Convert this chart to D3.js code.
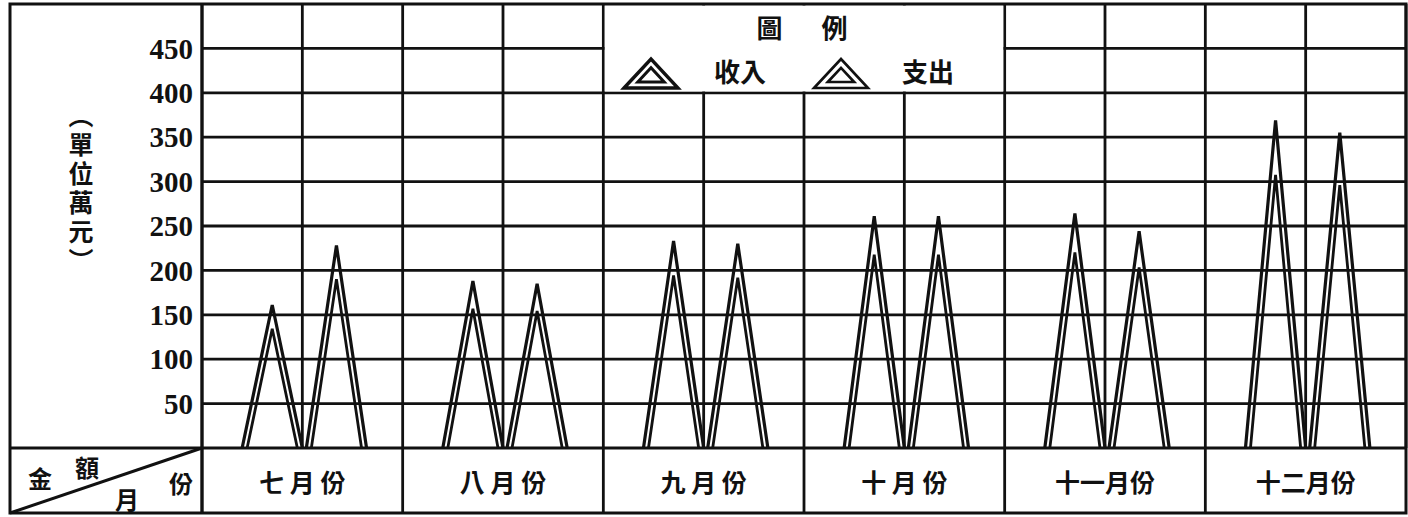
<!DOCTYPE html>
<html><head><meta charset="utf-8">
<script src="https://cdn.jsdelivr.net/npm/d3@7/dist/d3.min.js"></script>
<style>
html,body{margin:0;padding:0;background:#fff;}
svg{display:block;}
</style></head>
<body>
<svg id="chart" width="1408" height="517"></svg>
<script>
// ---- data ----
const months = ["七 月 份", "八 月 份", "九 月 份", "十 月 份", "十一月份", "十二月份"];
const income = [161, 188, 233, 261, 264, 369];   // 收入 (萬元)
const expense = [228, 185, 230, 261, 244, 355];  // 支出 (萬元)
const yTicks = [50, 100, 150, 200, 250, 300, 350, 400, 450];
const yGrid = [50, 100, 150, 200, 250, 300, 350, 400, 450];
const seriesNames = ["收入", "支出"];
const unitLabel = "（單位萬元）";

// ---- layout ----
const svg = d3.select("#chart");
const L = 10, T = 4, R = 1406, B = 513;
const plotL = 202, baseY = 448;
const ink = "#111";
const cjk = "'Noto Sans CJK TC','Noto Sans CJK SC',sans-serif";

const x = d3.scaleBand().domain(months).range([plotL, R]).paddingInner(0).paddingOuter(0);
const bw = x.bandwidth();
const y = d3.scaleLinear().domain([0, 500]).range([baseY, T]);

const g = svg.append("g");

// horizontal grid lines
g.selectAll("line.h").data(yGrid).join("line")
  .attr("x1", plotL).attr("x2", R)
  .attr("y1", d => y(d)).attr("y2", d => y(d))
  .attr("stroke", ink).attr("stroke-width", 2.8);

// vertical grid lines: month boundaries and mid lines
const vLines = [];
months.forEach(m => { vLines.push(x(m)); vLines.push(x(m) + bw / 2); });
vLines.push(R);
g.selectAll("line.v").data(vLines).join("line")
  .attr("x1", d => d).attr("x2", d => d)
  .attr("y1", T).attr("y2", baseY)
  .attr("stroke", ink).attr("stroke-width", 2.8);

// legend box (covers columns of 九月/十月 from top down to 400 line)
const lgX0 = x(months[2]), lgX1 = x(months[3]) + bw;
g.append("rect").attr("x", lgX0 + 1.4).attr("y", T + 1.4)
  .attr("width", lgX1 - lgX0 - 2.8).attr("height", y(400) - T - 2.8)
  .attr("fill", "#fff");

// outer frame + bottom row lines
g.append("rect").attr("x", L).attr("y", T).attr("width", R - L).attr("height", B - T)
  .attr("fill", "none").attr("stroke", ink).attr("stroke-width", 3);
g.append("line").attr("x1", L).attr("x2", R).attr("y1", baseY).attr("y2", baseY)
  .attr("stroke", ink).attr("stroke-width", 3);
g.append("line").attr("x1", plotL).attr("x2", plotL).attr("y1", T).attr("y2", B)
  .attr("stroke", ink).attr("stroke-width", 3);
months.forEach(m => {
  g.append("line").attr("x1", x(m)).attr("x2", x(m)).attr("y1", baseY).attr("y2", B)
    .attr("stroke", ink).attr("stroke-width", 2.8);
});
// diagonal in corner cell
g.append("line").attr("x1", L).attr("y1", B).attr("x2", plotL).attr("y2", baseY)
  .attr("stroke", ink).attr("stroke-width", 3);

// y tick labels
g.selectAll("text.yt").data(yTicks).join("text")
  .attr("x", 193).attr("y", d => y(d)).attr("dy", "0.35em")
  .attr("text-anchor", "end")
  .attr("font-family", "'Liberation Serif','DejaVu Serif',serif")
  .attr("font-weight", "bold").attr("font-size", 29).attr("fill", ink)
  .text(d => d);

// vertical unit label (one text, vertical writing mode)
g.append("text")
  .attr("x", 81).attr("y", 190)
  .attr("text-anchor", "middle")
  .style("writing-mode", "vertical-rl")
  .attr("font-family", cjk).attr("font-weight", "bold").attr("font-size", 25)
  .attr("letter-spacing", 4)
  .attr("fill", ink).text(unitLabel);

// corner cell labels
const corner = [["金", 40, 479], ["額", 87, 468], ["月", 127, 500], ["份", 181, 484]];
g.selectAll("text.corner").data(corner).join("text")
  .attr("x", d => d[1]).attr("y", d => d[2]).attr("dy", "0.36em")
  .attr("text-anchor", "middle")
  .attr("font-family", cjk).attr("font-weight", "bold").attr("font-size", 24)
  .attr("fill", ink).text(d => d[0]);

// month labels
g.selectAll("text.mon").data(months).join("text")
  .attr("x", d => x(d) + bw / 2).attr("y", (baseY + B) / 2 + 2).attr("dy", "0.36em")
  .attr("text-anchor", "middle")
  .attr("font-family", cjk).attr("font-weight", "bold").attr("font-size", 25)
  .attr("fill", ink).text(d => d);

// triangles
const h = 5;
const tris = [];
months.forEach((m, i) => {
  const mid = x(m) + bw / 2;
  [income[i], expense[i]].forEach((v, s) => {
    const x0 = s === 0 ? mid - 0.3 * bw : mid + 0.02 * bw;
    const x1 = s === 0 ? mid : mid + 0.32 * bw;
    tris.push({ x0, x1, v, s });
  });
});
const tg = g.append("g").attr("fill", "none").attr("stroke", ink).attr("stroke-linejoin", "miter");
tris.forEach(t => {
  const ax = (t.x0 + t.x1) / 2, ay = y(t.v);
  const H = baseY - ay;
  tg.append("path")
    .attr("d", `M${t.x0},${baseY}L${ax},${ay}L${t.x1},${baseY}`)
    .attr("stroke-width", 3.2);
  const Hi = H * (1 - 2 * h / (t.x1 - t.x0));
  tg.append("path")
    .attr("d", `M${t.x0 + h},${baseY}L${ax},${baseY - Hi}L${t.x1 - h},${baseY}`)
    .attr("stroke-width", 2.8);
});

// legend
const lcx = (lgX0 + lgX1) / 2;
g.append("text").attr("x", lcx - 2).attr("y", 29).attr("dy", "0.36em")
  .attr("text-anchor", "middle").attr("font-family", cjk).attr("font-weight", "bold")
  .attr("font-size", 26).attr("fill", ink).text("圖\u2003\u2002例");

function legendTri(cx, topY, botY, half, d, w1, w2) {
  const pts = [[cx - half, botY], [cx, topY], [cx + half, botY]];
  g.append("path").attr("d", d3.line()(pts) + "Z").attr("fill", "none")
    .attr("stroke", ink).attr("stroke-width", w1).attr("stroke-linejoin", "miter");
  const a = Math.hypot(pts[1][0] - pts[2][0], pts[1][1] - pts[2][1]);
  const b = Math.hypot(pts[0][0] - pts[2][0], pts[0][1] - pts[2][1]);
  const c = Math.hypot(pts[0][0] - pts[1][0], pts[0][1] - pts[1][1]);
  const p = a + b + c;
  const ix = (a * pts[0][0] + b * pts[1][0] + c * pts[2][0]) / p;
  const iy = (a * pts[0][1] + b * pts[1][1] + c * pts[2][1]) / p;
  const area = Math.abs((pts[1][0] - pts[0][0]) * (pts[2][1] - pts[0][1]) - (pts[2][0] - pts[0][0]) * (pts[1][1] - pts[0][1])) / 2;
  const r = 2 * area / p;
  const k = (r - d) / r;
  const inner = pts.map(q => [ix + (q[0] - ix) * k, iy + (q[1] - iy) * k]);
  g.append("path").attr("d", d3.line()(inner) + "Z").attr("fill", "none")
    .attr("stroke", ink).attr("stroke-width", w2).attr("stroke-linejoin", "miter");
}
const legendItems = [
  { name: seriesNames[0], tx: 651, lx: 740, w1: 3.4, w2: 3 },
  { name: seriesNames[1], tx: 841, lx: 928, w1: 2.6, w2: 2.6 }
];
legendItems.forEach(it => {
  legendTri(it.tx, 59, 88, 27, 6, it.w1, it.w2);
  g.append("text").attr("x", it.lx).attr("y", 73).attr("dy", "0.36em")
    .attr("text-anchor", "middle").attr("font-family", cjk).attr("font-weight", "bold")
    .attr("font-size", 26).attr("fill", ink).text(it.name);
});
</script>
</body></html>
